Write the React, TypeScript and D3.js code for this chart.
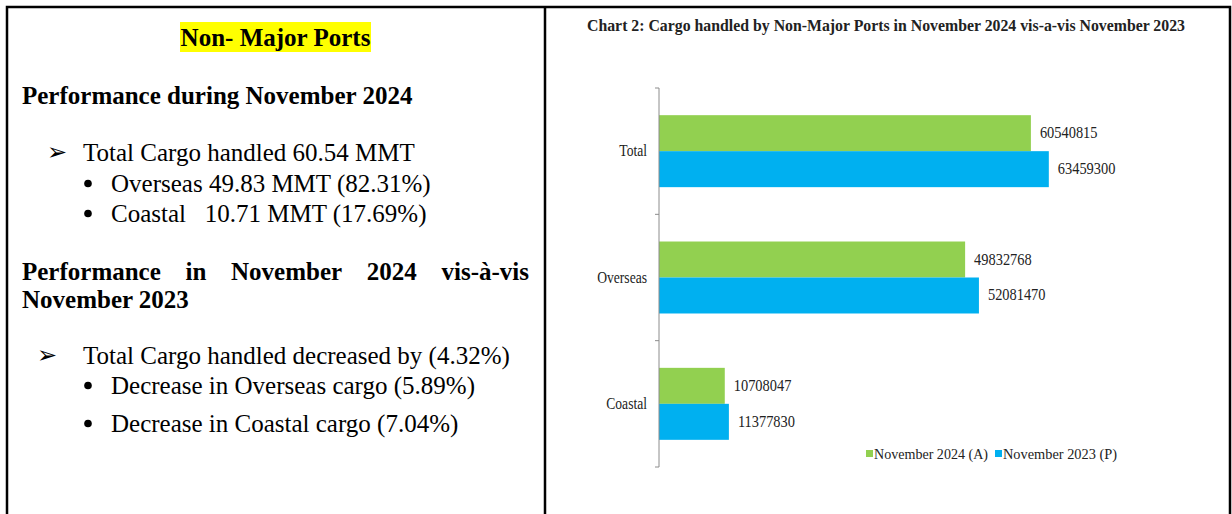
import React, { useEffect, useRef } from 'react';
import * as d3 from 'd3';

const categories = ["Total", "Overseas", "Coastal"];
const nov2024 = [60540815, 49832768, 10708047];
const nov2023 = [63459300, 52081470, 11377830];
const seriesNames = ["November 2024 (A)", "November 2023 (P)"];
const seriesColors = ["#92D050", "#00B0F0"];
const chartTitle = "Chart 2: Cargo handled by Non-Major Ports in November 2024 vis-a-vis November 2023";

const heading = "Non- Major Ports";
const perfHeading = "Performance during November 2024";
const perfLines = [
  { mark: "arrow", text: "Total Cargo handled 60.54 MMT" },
  { mark: "dot", text: "Overseas 49.83 MMT (82.31%)" },
  { mark: "dot", text: "Coastal\u00a0\u00a0\u00a010.71 MMT (17.69%)" },
];
const compareWords = ["Performance", "in", "November", "2024", "vis-à-vis"];
const compareLine2 = "November 2023";
const compareLines = [
  { mark: "arrow", text: "Total Cargo handled decreased by (4.32%)" },
  { mark: "dot", text: "Decrease in Overseas cargo (5.89%)" },
  { mark: "dot", text: "Decrease in Coastal cargo (7.04%)" },
];

const W = 1232;
const H = 514;
const serif = "'Liberation Serif', 'Times New Roman', serif";

export default function App() {
  const ref = useRef<SVGSVGElement>(null);

  useEffect(() => {
    const svg = d3.select(ref.current);
    svg.selectAll('*').remove();

    // frame
    const frame = svg.append('g').attr('stroke', '#000').attr('stroke-width', 2.5).attr('fill', 'none');
    frame.append('path').attr('d', `M7,${H + 5} V7 H1230 V${H + 5}`);
    frame.append('line').attr('x1', 545).attr('x2', 545).attr('y1', 7).attr('y2', H + 5);

    // ----- left panel -----
    const left = svg.append('g').attr('font-family', serif).attr('fill', '#000');

    left.append('rect').attr('x', 180).attr('y', 22).attr('width', 191).attr('height', 30).attr('fill', '#FFFF00');
    left.append('text').attr('x', 275.5).attr('y', 46).attr('text-anchor', 'middle')
      .attr('font-size', 25).attr('font-weight', 'bold').text(heading);

    left.append('text').attr('x', 22).attr('y', 104).attr('font-size', 25).attr('font-weight', 'bold').text(perfHeading);

    const drawList = (lines, ys, arrowX) => {
      lines.forEach((d, i) => {
        if (d.mark === 'arrow') {
          left.append('text').attr('x', arrowX).attr('y', ys[i] - 1).attr('font-size', 24)
            .attr('font-family', "'DejaVu Sans', sans-serif").text('\u27A2');
          left.append('text').attr('x', 83).attr('y', ys[i]).attr('font-size', 25).text(d.text);
        } else {
          left.append('circle').attr('cx', 88).attr('cy', ys[i] - 8.5).attr('r', 3.8);
          left.append('text').attr('x', 111).attr('y', ys[i]).attr('font-size', 25).text(d.text);
        }
      });
    };
    drawList(perfLines, [161, 192, 222], 47);

    // justified bold line
    const words = left.append('g').attr('font-size', 25).attr('font-weight', 'bold');
    const wordNodes = compareWords.map(w => words.append('text').attr('y', 280).text(w));
    const widths = wordNodes.map(n => (n.node() as SVGTextElement).getComputedTextLength());
    const gap = (529 - 22 - d3.sum(widths)) / (compareWords.length - 1);
    let cx = 22;
    wordNodes.forEach((n, i) => { n.attr('x', cx); cx += widths[i] + gap; });
    left.append('text').attr('x', 22).attr('y', 308).attr('font-size', 25).attr('font-weight', 'bold').text(compareLine2);

    drawList(compareLines, [364, 394, 432], 37);

    // ----- chart -----
    const chart = svg.append('g').attr('font-family', serif).attr('fill', '#000');

    chart.append('text').attr('x', 886).attr('y', 31).attr('text-anchor', 'middle')
      .attr('font-size', 17).attr('font-weight', 'bold').attr('fill', '#222')
      .attr('textLength', 598).attr('lengthAdjust', 'spacingAndGlyphs').text(chartTitle);

    const x = d3.scaleLinear().domain([0, 70000000]).range([659, 1089]);
    const y = d3.scaleBand().domain(categories).range([88, 467]);
    const y1 = d3.scaleBand().domain(seriesNames).range([0, y.bandwidth()]).paddingOuter(0.755);

    const data = categories.map((c, i) => ({ cat: c, vals: [nov2024[i], nov2023[i]] }));

    const groups = chart.selectAll('.cat').data(data).enter().append('g')
      .attr('transform', d => `translate(0,${y(d.cat)})`);

    groups.selectAll('rect').data(d => d.vals.map((v, k) => ({ v, k }))).enter().append('rect')
      .attr('x', x(0))
      .attr('y', d => y1(seriesNames[d.k]))
      .attr('width', d => x(d.v) - x(0))
      .attr('height', y1.bandwidth())
      .attr('fill', d => seriesColors[d.k]);

    // value labels, a bit condensed like the source image
    groups.selectAll('.val').data(d => d.vals.map((v, k) => ({ v, k }))).enter().append('text')
      .attr('transform', d => `translate(${x(d.v) + 9},${y1(seriesNames[d.k]) + y1.bandwidth() / 2 + 5}) scale(0.9,1)`)
      .attr('font-size', 16)
      .attr('fill', '#222')
      .text(d => d.v);

    groups.append('text')
      .attr('transform', `translate(647,${y.bandwidth() / 2 + 5}) scale(0.85,1)`)
      .attr('text-anchor', 'end').attr('font-size', 16).attr('fill', '#222')
      .text(d => d.cat);

    // axis
    const axis = chart.append('g').attr('stroke', '#8c8c8c').attr('stroke-width', 1);
    axis.append('line').attr('x1', x(0)).attr('x2', x(0)).attr('y1', 88).attr('y2', 467);
    const tickYs = categories.map(c => y(c)).concat([y.range()[1]]);
    tickYs.forEach(t => {
      axis.append('line').attr('x1', x(0) - 4).attr('x2', x(0)).attr('y1', t).attr('y2', t);
    });

    // legend
    const legend = chart.append('g').attr('transform', 'translate(866,446)');
    const legX = [0, 129];
    seriesNames.forEach((s, i) => {
      legend.append('rect').attr('x', legX[i]).attr('y', 4).attr('width', 7).attr('height', 7).attr('fill', seriesColors[i]);
      legend.append('text').attr('x', legX[i] + 8).attr('y', 13).attr('font-size', 15).attr('fill', '#222')
        .attr('textLength', 114).attr('lengthAdjust', 'spacingAndGlyphs').text(s);
    });
  }, []);

  return (
    <svg ref={ref} width={W} height={H}
      style={{ position: 'absolute', left: 0, top: 0, background: '#fff', display: 'block' }} />
  );
}
